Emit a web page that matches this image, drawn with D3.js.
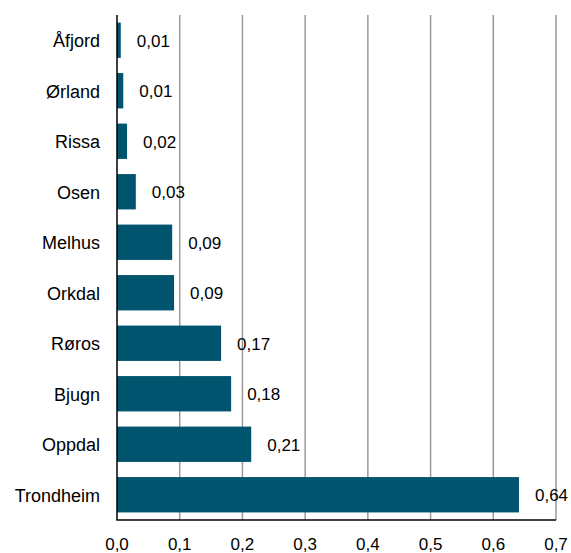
<!DOCTYPE html>
<html><head><meta charset="utf-8">
<script src="https://cdn.jsdelivr.net/npm/d3@7"></script>
<style>body{margin:0;background:#fff}svg{display:block}text{font-family:"Liberation Sans",Arial,sans-serif}</style>
</head><body><svg id="c" width="571" height="553"></svg>
<script>
const categories = ["Åfjord","Ørland","Rissa","Osen","Melhus","Orkdal","Røros","Bjugn","Oppdal","Trondheim"];
const values = [0.006, 0.010, 0.016, 0.030, 0.088, 0.091, 0.166, 0.182, 0.214, 0.641];
const valueLabels = ["0,01","0,01","0,02","0,03","0,09","0,09","0,17","0,18","0,21","0,64"];
const ticks = [0,0.1,0.2,0.3,0.4,0.5,0.6,0.7];
const tickLabels = ["0,0","0,1","0,2","0,3","0,4","0,5","0,6","0,7"];

(function(){
const svg = d3.select("#c");
const pLeft = 117, pRight = 556, pTop = 15, pBottom = 520;
const x = d3.scaleLinear().domain([0,0.7]).range([pLeft,pRight]);
const y = d3.scaleBand().domain(categories).range([pTop,pBottom]).paddingInner(0.3).paddingOuter(0.15);

svg.append("g").selectAll("line").data(ticks.slice(1)).join("line")
  .attr("x1",d=>x(d)).attr("x2",d=>x(d)).attr("y1",pTop).attr("y2",pBottom)
  .attr("stroke","#999").attr("stroke-width",1.5);

svg.append("g").selectAll("rect").data(categories).join("rect")
  .attr("x",x(0)).attr("y",d=>y(d)).attr("height",y.bandwidth())
  .attr("width",(d,i)=>x(values[i])-x(0)).attr("fill","#00546e");

svg.append("g").selectAll("text").data(categories).join("text")
  .attr("x",(d,i)=>x(values[i])+16).attr("y",d=>y(d)+y.bandwidth()/2+0.5)
  .attr("dy","0.35em").attr("font-size",17).attr("fill","#000")
  .text((d,i)=>valueLabels[i]);

svg.append("g").selectAll("text").data(categories).join("text")
  .attr("x",100).attr("y",d=>y(d)+y.bandwidth()/2+0.5)
  .attr("dy","0.35em").attr("text-anchor","end").attr("font-size",18).attr("fill","#000")
  .text(d=>d);

svg.append("line").attr("x1",x(0)).attr("x2",x(0)).attr("y1",pTop).attr("y2",pBottom)
  .attr("stroke","#000").attr("stroke-width",1.5);
svg.append("line").attr("x1",x(0)-0.75).attr("x2",x(0.7)).attr("y1",pBottom).attr("y2",pBottom)
  .attr("stroke","#000").attr("stroke-width",1.5);

svg.append("g").selectAll("text").data(ticks).join("text")
  .attr("x",d=>x(d)).attr("y",544).attr("dy","0.35em")
  .attr("text-anchor","middle").attr("font-size",17).attr("fill","#000")
  .text((d,i)=>tickLabels[i]);
})();
</script></body></html>
